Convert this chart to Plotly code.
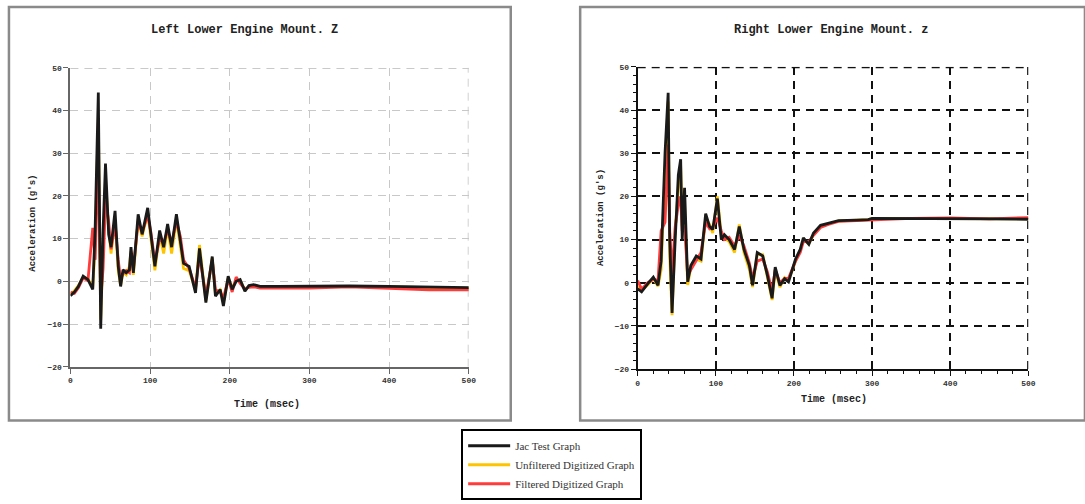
import plotly.graph_objects as go

W, H = 1085, 504

# ---------------- data ----------------
left_time = [0, 5, 10, 16, 22, 28, 31, 35, 38, 41, 44, 48, 51, 56, 60, 63, 66, 70, 74, 76,
             79, 85, 90, 97, 101, 106, 112, 117, 122, 127, 133, 138, 142, 149, 157, 162, 170, 178, 182, 188,
             192, 198, 203, 208, 213, 219, 224, 230, 238, 260, 300, 350, 400, 450, 500]
left_test = [-3.4, -2.5, -1.2, 1.2, 0.4, -1.9, 12, 44.2, -11.1, 12, 27.6, 11, 8, 16.5, 3.5, -1.2, 2.7, 2, 2.7, 8,
             2, 15.7, 11, 17.2, 11, 3.5, 11.9, 8, 13.4, 8, 15.7, 8.8, 4.2, 3.5, -2.7, 7.7, -5, 5.8, -3.5, -1.9,
             -5.8, 1.2, -1.9, 0, 0.4, -2.3, -1.0, -0.8, -1.2, -1.2, -1.1, -1.1, -1.2, -1.4, -1.5]
left_unfilt = [-3.0, -2.2, -1.0, 1.0, 0.6, -1.5, 8, 38, -9, 6, 24, 12, 6.5, 14.5, 2.5, -1.0, 2.2, 1.5, 3.5, 7,
               1.5, 14.5, 10.5, 16, 10, 2.6, 11, 6.5, 12.5, 6.5, 14.5, 7.5, 3.0, 2.5, -2.0, 8.5, -4.5, 5.5, -3.0, -2.0,
               -5.0, 0.8, -1.5, 0.2, 0.2, -2.0, -1.2, -0.9, -1.3, -1.3, -1.2, -1.2, -1.3, -1.4, -1.6]
left_filt = [-2.5, -2.8, -1.5, 0.8, 0.2, 12.5, 5, 30, -4, 3, 19, 14, 7.5, 13.5, 5, 0.5, 1.8, 2.5, 2.0, 6,
             3, 14, 11.5, 15.5, 11.5, 4.5, 10, 9, 12, 9, 14, 10.5, 5, 3, -1.5, 6, -3.5, 5, -2.0, -2.5,
             -4.0, 0.5, -2.5, 1.0, -0.5, -1.8, -1.4, -1.3, -1.6, -1.6, -1.6, -1.3, -1.7, -2.0, -2.0]

right_time = [0, 5, 13, 20, 26, 30, 35, 39, 41, 44, 48, 52, 55, 57, 60, 64, 68, 75, 81, 87,
              92, 96, 102, 107, 111, 117, 124, 130, 136, 143, 147, 153, 160, 166, 172, 176, 182, 188, 193, 202,
              208, 212, 219, 225, 234, 244, 257, 280, 295, 300, 350, 400, 450, 500]
right_test = [-1.4, -2.1, -0.2, 1.3, -0.6, 5, 30, 44, 10, -7, 10, 25, 28.6, 10, 22, 0.2, 4, 6.2, 5.5, 16,
              13, 12.3, 19.5, 10, 11.1, 10, 7.7, 13, 7.7, 3.9, -0.6, 7, 6.2, 1.7, -3.6, 3.6, -0.6, 0.9, 0.2, 5.5,
              7.7, 10.4, 8.9, 11.5, 13.3, 13.8, 14.4, 14.5, 14.6, 14.9, 14.9, 14.9, 14.8, 14.7]
right_unfilt = [-1.0, -1.8, -0.5, 1.0, -0.8, 3, 26, 42, 6, -7.5, 12, 22, 27, 13, 18, -0.5, 3.5, 5.5, 5, 15,
                13.5, 11.5, 20, 11, 10.5, 9.5, 7, 13.5, 7, 3, -1, 6.5, 6.5, 1.0, -4, 3, -1, 1.2, 0.5, 5,
                7.5, 10, 9, 11.2, 13, 13.6, 14.3, 14.5, 14.6, 14.9, 14.9, 14.9, 14.8, 14.8]
right_filt = [0.5, -1.5, 0, 0.8, 0.5, 12, 14, 32, 12, 2, 13, 18, 20, 12, 13, 1.5, 3, 5, 7, 14,
              12.5, 13, 15, 12, 10, 10.5, 8.5, 11, 8.5, 4.5, 1.0, 5, 5.5, 2.5, -2, 3, 0, 1, 1, 5,
              7, 9.5, 9.5, 11, 12.8, 13.5, 14.2, 14.4, 14.5, 14.7, 14.9, 15.0, 14.8, 15.1]

y_ticks = [-20, -10, 0, 10, 20, 30, 40, 50]
x_ticks = [0, 100, 200, 300, 400, 500]

series_names = ["Jac Test Graph", "Unfiltered Digitized Graph", "Filtered Digitized Graph"]
series_colors = ["#1a1a1a", "#FFC400", "#FF3B3B"]


def px(x):
    return x / W


def py(y):
    return 1 - y / H


fig = go.Figure()

left_sets = [left_test, left_unfilt, left_filt]
right_sets = [right_test, right_unfilt, right_filt]
order = [1, 2, 0]  # draw yellow, red, then black on top
for i in order:
    fig.add_trace(go.Scatter(x=left_time, y=left_sets[i], mode="lines", name=series_names[i],
                             line=dict(color=series_colors[i], width=2.8),
                             xaxis="x", yaxis="y", legendrank=i + 1, showlegend=True))
    fig.add_trace(go.Scatter(x=right_time, y=right_sets[i], mode="lines", name=series_names[i],
                             line=dict(color=series_colors[i], width=2.8),
                             xaxis="x2", yaxis="y2", showlegend=False))

tick_font = dict(family="Liberation Mono", size=8, color="#333333", weight="bold")

GRID_DASH = "8px,6px"
axis_common = dict(showline=True, linewidth=2, ticks="outside", ticklen=5, zeroline=False,
                   tickfont=tick_font, showgrid=True, griddash=GRID_DASH)

fig.update_layout(
    width=W, height=H,
    margin=dict(l=0, r=0, t=0, b=0),
    paper_bgcolor="white", plot_bgcolor="white",
    xaxis=dict(domain=[px(69), px(470.7)], range=[0, 500], tickvals=x_ticks, anchor="y",
               linecolor="#666666", tickcolor="#666666", gridcolor="#c8c8c8", gridwidth=1, **axis_common),
    yaxis=dict(domain=[py(369.3), py(65)], range=[-20, 50], tickvals=y_ticks, anchor="x",
               linecolor="#666666", tickcolor="#666666", gridcolor="#c8c8c8", gridwidth=1, **axis_common),
    xaxis2=dict(domain=[px(641), px(1035)], range=[0, 500], tickvals=x_ticks, anchor="y2",
                linecolor="#111111", tickcolor="#111111", gridcolor="#111111", gridwidth=1.5,
                minor=dict(dtick=20, ticks="outside", ticklen=3, tickcolor="#111111", showgrid=False),
                **axis_common),
    yaxis2=dict(domain=[py(371.7), py(64)], range=[-20, 50], tickvals=y_ticks, anchor="x2",
                linecolor="#111111", tickcolor="#111111", gridcolor="#111111", gridwidth=1.5,
                minor=dict(dtick=2, ticks="outside", ticklen=3, tickcolor="#111111", showgrid=False),
                **axis_common),
    legend=dict(x=px(463), y=py(433), xanchor="left", yanchor="top",
                bgcolor="white", bordercolor="#000000", borderwidth=2,
                font=dict(family="Liberation Serif", size=11, color="#333333"),
                itemwidth=42, tracegroupgap=3),
    showlegend=True,
)

# edge grid lines sit just inside the plot edge so they are not clipped
X_EDGE, Y_EDGE = 499.3, 49.85
shapes = [
    dict(type="rect", xref="paper", yref="paper", x0=px(7), x1=px(513), y0=py(424), y1=py(3),
         line=dict(color="#8a8a8a", width=2.5), layer="below"),
    dict(type="rect", xref="paper", yref="paper", x0=px(583), x1=px(1092), y0=py(424), y1=py(3),
         line=dict(color="#8a8a8a", width=2.5), layer="below"),
    dict(type="line", xref="x", yref="y domain", x0=X_EDGE, x1=X_EDGE, y0=0, y1=1,
         line=dict(color="#c8c8c8", width=1, dash=GRID_DASH), layer="below"),
    dict(type="line", xref="x domain", yref="y", x0=0, x1=1, y0=Y_EDGE, y1=Y_EDGE,
         line=dict(color="#c8c8c8", width=1, dash=GRID_DASH), layer="below"),
    dict(type="line", xref="x2", yref="y2 domain", x0=X_EDGE, x1=X_EDGE, y0=0, y1=1,
         line=dict(color="#111111", width=1.5, dash=GRID_DASH), layer="below"),
    dict(type="line", xref="x2 domain", yref="y2", x0=0, x1=1, y0=Y_EDGE, y1=Y_EDGE,
         line=dict(color="#111111", width=1.5, dash=GRID_DASH), layer="below"),
]
fig.update_layout(shapes=shapes)

title_font = dict(family="Liberation Mono", size=12, color="#222222")
label_font = dict(family="Liberation Mono", size=10, color="#222222")
annotations = [
    dict(text="<b>Left Lower Engine Mount. Z</b>", x=px(245), y=py(26), font=title_font),
    dict(text="<b>Right Lower Engine Mount. z</b>", x=px(836), y=py(26), font=title_font),
    dict(text="<b>Time (msec)</b>", x=px(267), y=py(408), font=label_font),
    dict(text="<b>Time (msec)</b>", x=px(839), y=py(403), font=label_font),
    dict(text="<b>Acceleration (g's)</b>", x=px(31), y=py(223), font=dict(family="Liberation Mono", size=9, color="#222222"), textangle=-90),
    dict(text="<b>Acceleration (g's)</b>", x=px(604), y=py(217), font=dict(family="Liberation Mono", size=9, color="#222222"), textangle=-90),
]
for a in annotations:
    a.update(xref="paper", yref="paper", showarrow=False, xanchor="center", yanchor="middle")
fig.update_layout(annotations=annotations)

fig.write_html("out.html")
